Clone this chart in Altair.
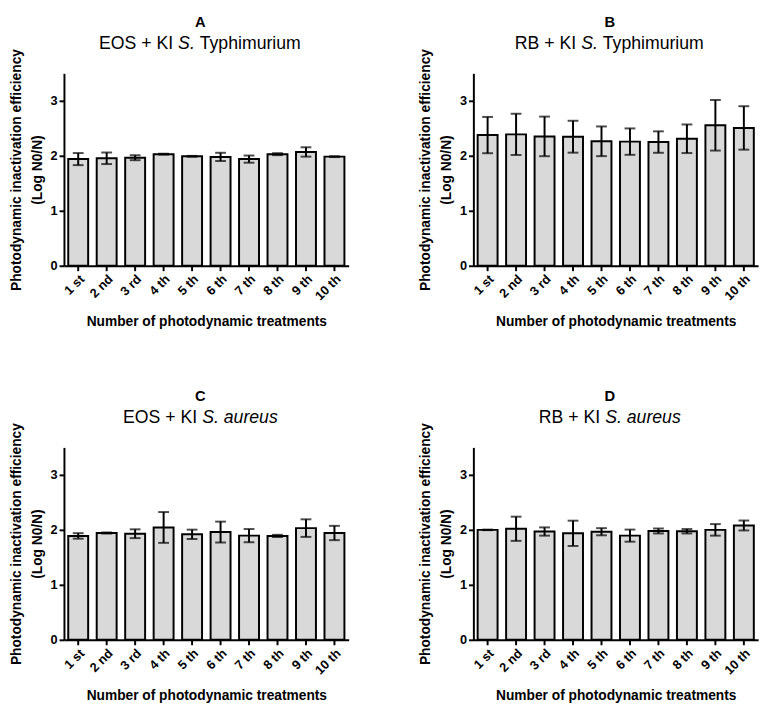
import altair as alt
import pandas as pd

treatments = ["1 st", "2 nd", "3 rd", "4 th", "5 th", "6 th", "7 th", "8 th", "9 th", "10 th"]

a_mean = [1.94, 1.955, 1.965, 2.03, 1.99, 1.98, 1.94, 2.03, 2.07, 1.985]
a_err = [0.11, 0.105, 0.045, 0.008, 0.008, 0.075, 0.065, 0.018, 0.085, 0.008]

b_mean = [2.377, 2.39, 2.353, 2.347, 2.264, 2.258, 2.25, 2.31, 2.555, 2.507]
b_err = [0.33, 0.375, 0.36, 0.29, 0.27, 0.24, 0.195, 0.26, 0.46, 0.395]

c_mean = [1.89, 1.943, 1.93, 2.044, 1.919, 1.96, 1.895, 1.89, 2.032, 1.943]
c_err = [0.05, 0.01, 0.08, 0.28, 0.085, 0.19, 0.12, 0.02, 0.16, 0.13]

d_mean = [2.0, 2.02, 1.97, 1.937, 1.966, 1.895, 1.98, 1.975, 2.0, 2.08]
d_err = [0.005, 0.22, 0.075, 0.23, 0.065, 0.11, 0.045, 0.04, 0.105, 0.09]

# subtitle segments: (text, font style); a space is inserted between segments
a_sub = [("EOS + KI", "normal"), ("S.", "italic"), ("Typhimurium", "normal")]
b_sub = [("RB + KI", "normal"), ("S.", "italic"), ("Typhimurium", "normal")]
c_sub = [("EOS + KI", "normal"), ("S. aureus", "italic")]
d_sub = [("RB + KI", "normal"), ("S. aureus", "italic")]

FONT = "Liberation Sans"
W_PLOT = 290
H_PLOT = 196
SUB_SIZE = 18

# Arial / Liberation Sans advance widths (per 1000 em)
ADV = {" ": 278, "+": 584, ".": 278, "A": 667, "B": 667, "E": 667, "I": 278, "K": 667,
       "O": 778, "R": 722, "S": 667, "T": 611, "a": 556, "e": 556, "h": 556, "i": 222,
       "m": 833, "p": 556, "r": 333, "s": 500, "u": 556, "y": 500}


def text_width(s, size):
    return sum(ADV.get(ch, 556) for ch in s) / 1000 * size


def panel(letter, segments, means, errs):
    df = pd.DataFrame({
        "t": treatments,
        "m": means,
        "lo": [m - e for m, e in zip(means, errs)],
        "hi": [m + e for m, e in zip(means, errs)],
    })
    base = alt.Chart(df)
    x = alt.X(
        "t:N", sort=treatments,
        scale=alt.Scale(paddingInner=0.3, paddingOuter=0.15),
        axis=alt.Axis(title="Number of photodynamic treatments", labelAngle=-45,
                      labelAlign="right", labelBaseline="top",
                      labelFontSize=13, titlePadding=12, grid=False),
    )
    yscale = alt.Scale(domain=[0, 3.5], nice=False)
    y = alt.Y(
        "m:Q", scale=yscale,
        axis=alt.Axis(values=[0, 1, 2, 3], format="d", grid=False,
                      title=["Photodynamic inactivation efficiency", "(Log N0/N)"],
                      titlePadding=6, labelFontSize=13, titleLineHeight=21),
    )
    bars = base.mark_bar(fill="#d9d9d9", stroke="black", strokeWidth=2).encode(x=x, y=y)
    rule = base.mark_rule(color="black", strokeWidth=2).encode(
        x=alt.X("t:N", sort=treatments), y=alt.Y("lo:Q", scale=yscale), y2="hi:Q")
    cap_hi = base.mark_tick(color="black", thickness=2, size=11).encode(
        x=alt.X("t:N", sort=treatments), y=alt.Y("hi:Q", scale=yscale))
    cap_lo = base.mark_tick(color="black", thickness=2, size=11).encode(
        x=alt.X("t:N", sort=treatments), y=alt.Y("lo:Q", scale=yscale))

    layers = [bars, rule, cap_hi, cap_lo]
    center = W_PLOT / 2 - 6
    layers.append(
        alt.Chart(pd.DataFrame({"s": [letter]})).mark_text(
            font=FONT, fontSize=15, fontWeight="bold", color="black",
            align="center", baseline="alphabetic",
        ).encode(text="s:N", x=alt.value(center), y=alt.value(-47))
    )
    space = text_width(" ", SUB_SIZE)
    total = sum(text_width(s, SUB_SIZE) for s, _ in segments) + space * (len(segments) - 1)
    xpos = center - total / 2
    for s, style in segments:
        layers.append(
            alt.Chart(pd.DataFrame({"s": [s]})).mark_text(
                font=FONT, fontSize=SUB_SIZE, fontStyle=style, color="black",
                align="left", baseline="alphabetic",
            ).encode(text="s:N", x=alt.value(xpos), y=alt.value(-25))
        )
        xpos += text_width(s, SUB_SIZE) + space
    return alt.layer(*layers).properties(width=W_PLOT, height=H_PLOT)


pA = panel("A", a_sub, a_mean, a_err)
pB = panel("B", b_sub, b_mean, b_err)
pC = panel("C", c_sub, c_mean, c_err)
pD = panel("D", d_sub, d_mean, d_err)

chart = alt.vconcat(
    alt.hconcat(pA, pB, spacing=71),
    alt.hconcat(pC, pD, spacing=71),
    spacing=62,
).configure(
    background="white", padding={"left": 1, "top": 1, "right": 5, "bottom": 5}
).configure_view(stroke=None).configure_axis(
    grid=False, domainColor="black", domainWidth=2, tickColor="black", tickWidth=2,
    tickSize=5, labelFont=FONT, labelFontWeight="bold", labelColor="black",
    titleFont=FONT, titleFontWeight="bold", titleFontSize=14, titleColor="black",
)

chart.save("out.html", embed_options={"renderer": "svg", "actions": False})
